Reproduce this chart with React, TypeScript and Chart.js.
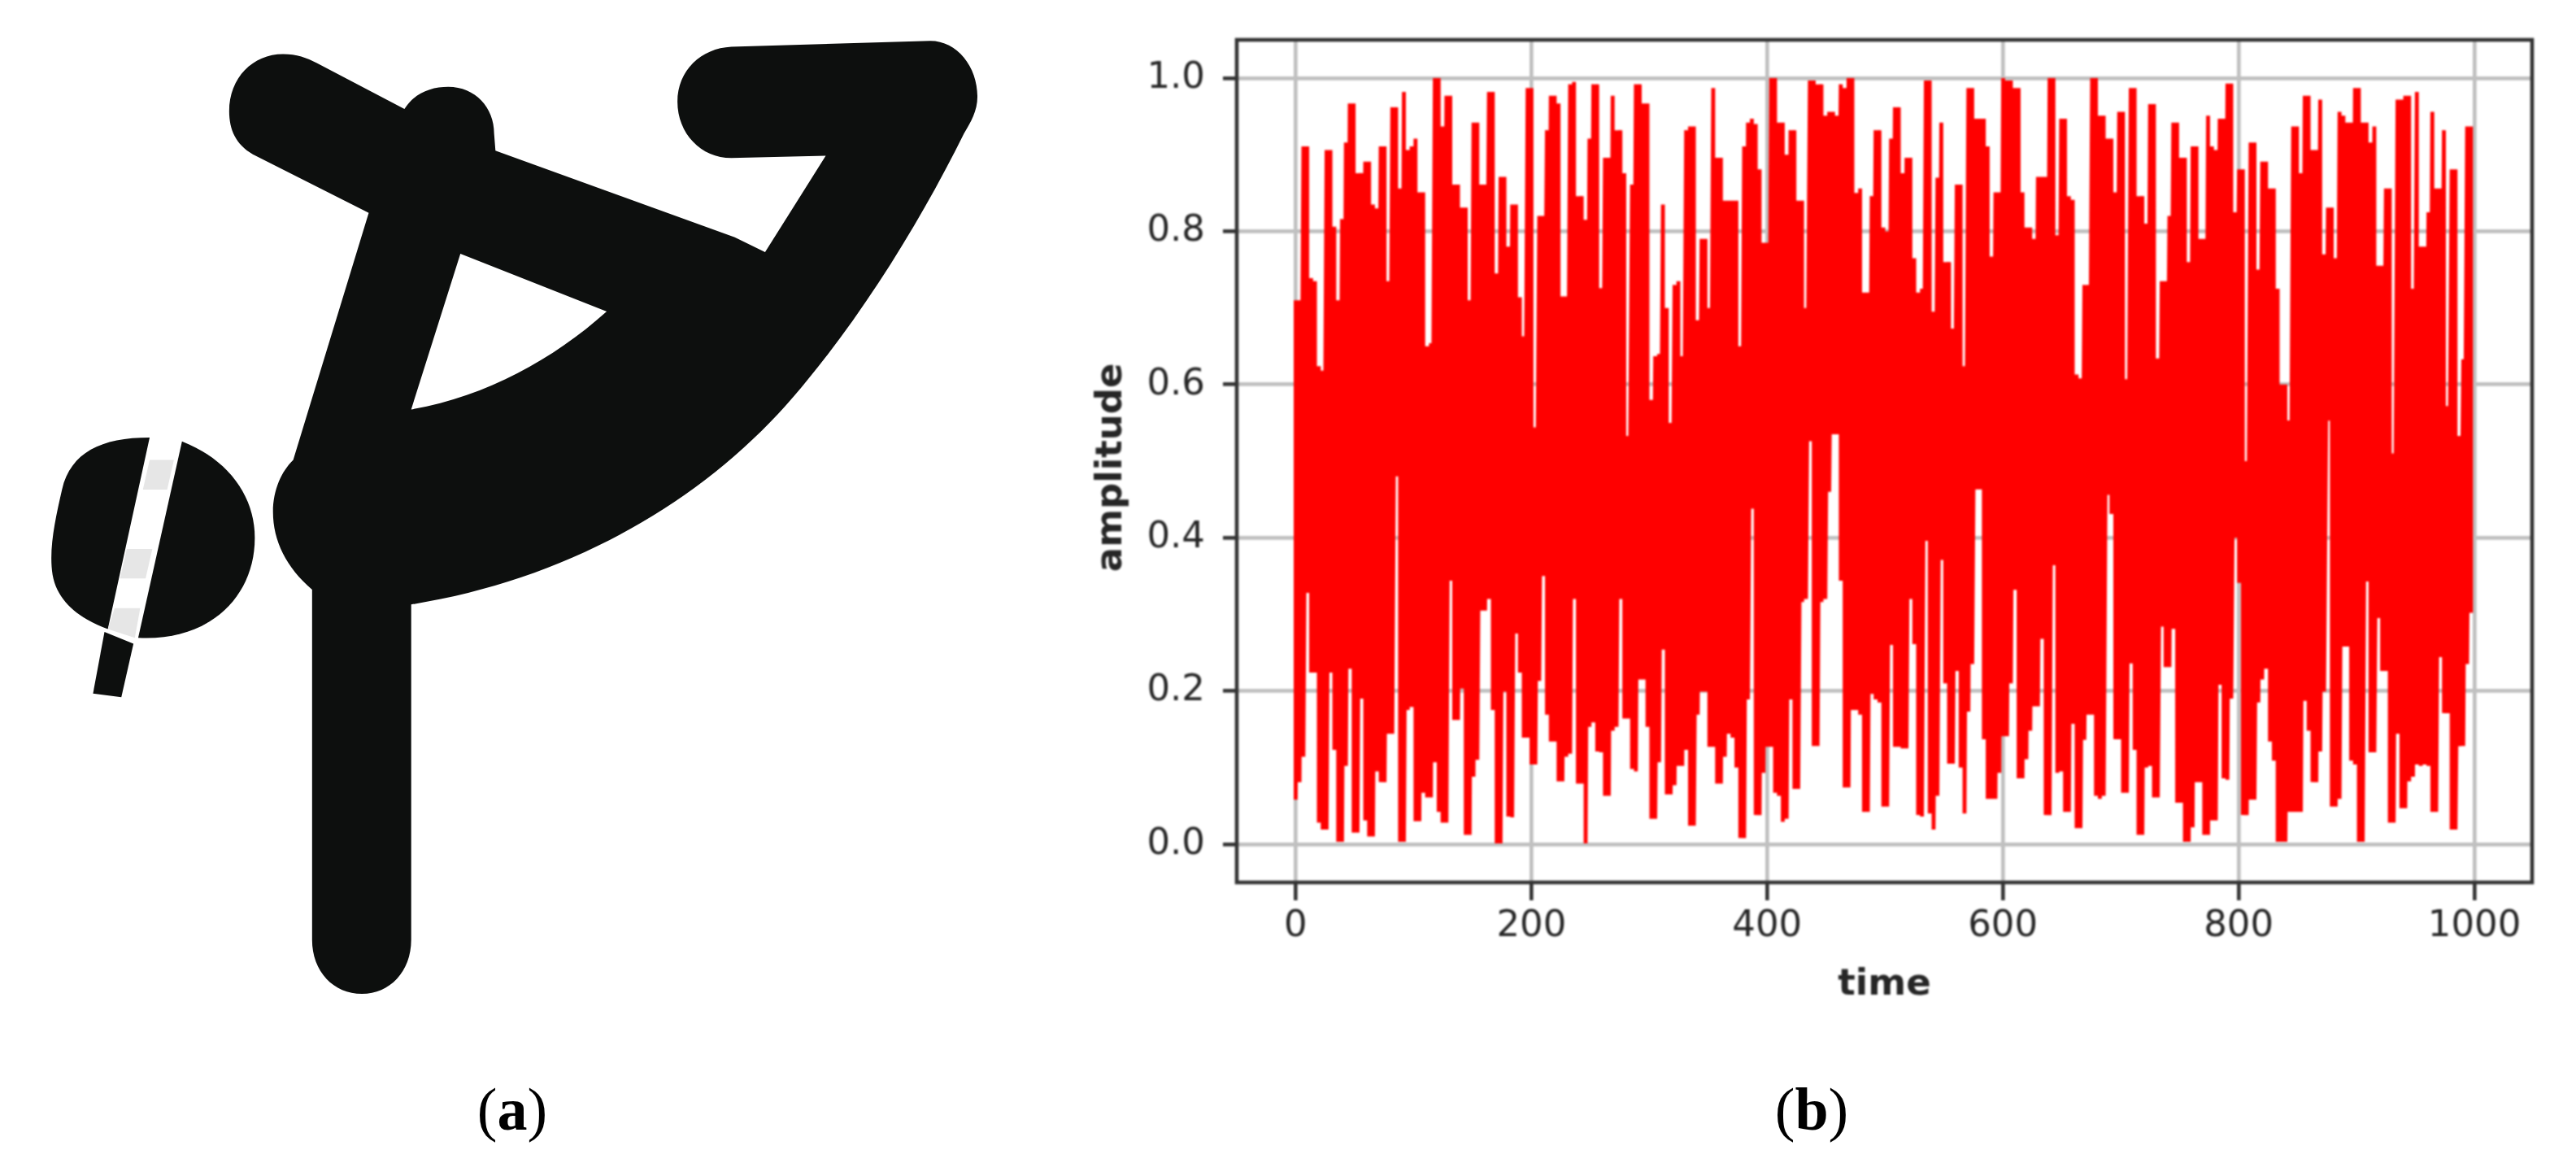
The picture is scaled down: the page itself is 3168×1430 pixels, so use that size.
import React, { useEffect, useRef } from "react";
import { Chart, registerables } from "chart.js";

Chart.register(...registerables);

// Upper and lower extents of the red trace.
const peaksA = [
  .71,.71,.911,.911,.739,.735,.624,.618,.906,.906,.806,.71,.816,.916,.967,.967,.876,.876,.891,.891,
  .835,.83,.911,.911,.735,.962,.962,.856,.982,.906,.911,.921,.851,.851,.65,.654,1,1,.937,.977,
  .977,.861,.861,.831,.831,.71,.942,.942,.861,.861,.982,.982,.745,.871,.871,.78,.835,.835,.714,.663,
  .987,.987,.544,.82,.82,.932,.977,.977,.967,.715,.715,.992,.995,.846,.846,.815,
];
const peaksB = [
  .921,.992,.992,.726,.896,.896,.977,.932,.932,.876,.533,.861,.992,.992,.967,.967,.58,.637,.64,.835,
  .70,.55,.73,.735,.637,.932,.937,.937,.684,.79,.79,.70,.987,.896,.896,.84,.84,.84,.84,.65,
  .911,.942,.947,.94,.881,.785,.785,1,1,.942,.942,.90,.932,.932,.84,.84,.70,.997,.997,.992,
  .992,.951,.956,.956,.951,.992,.987,1,1,.85,.856,.72,.72,.846,.932,.932,.805,.80,
];
const peaksC = [
  .921,.962,.962,.876,.896,.896,.765,.72,.725,.997,.997,.695,.87,.942,.76,.76,.673,.861,.861,.624,
  .987,.987,.947,.947,.947,.911,.767,.851,.851,1,.997,.997,.987,.987,.851,.805,.805,.79,.871,.871,
  .871,1,1,.795,.947,.947,.846,.841,.613,.608,.73,.73,1,1,.951,.951,.921,.921,.851,.956,
  .956,.607,.987,.987,.846,.846,.81,.966,.966,.634,.735,.735,.82,.942,.942,.896,.896,.76,
];
const peaksD = [
  .911,.911,.79,.79,.951,.911,.906,.947,.947,.993,.993,.825,.881,.881,.5,.916,.916,.75,.891,.891,
  .856,.856,.725,.60,.60,.553,.937,.937,.876,.977,.977,.906,.906,.972,.77,.831,.831,.765,.956,.951,
  .942,.942,.987,.987,.942,.942,.916,.937,.755,.755,.856,.856,.51,.972,.972,.977,.977,.725,.982,.78,
  .78,.825,.956,.856,.856,.932,.572,.881,.881,.533,.633,.937,.937,
];

const troughsA = [
  .058,.081,.114,.328,.224,.224,.028,.019,.019,.224,.123,.003,.003,.102,.229,.015,.015,.19,.031,.01,
  .01,.095,.081,.081,.144,.144,.48,.003,.003,.175,.179,.03,.03,.067,.061,.061,.107,.042,.028,.028,
  .344,.162,.162,.203,.012,.012,.088,.11,.305,.305,.32,.175,.001,.001,.199,.036,.035,.275,.224,.139,
  .139,.104,.104,.213,.35,.169,.134,.134,.082,.082,.114,.118,.32,.079,.079,.001,
];
const troughsB = [
  .153,.159,.121,.12,.063,.063,.148,.153,.32,.164,.164,.098,.095,.215,.215,.153,.033,.033,.107,.254,
  .065,.065,.077,.102,.102,.123,.024,.024,.169,.199,.199,.127,.127,.079,.079,.114,.144,.139,.10,.008,
  .008,.189,.438,.038,.038,.093,.127,.127,.067,.063,.029,.033,.189,.072,.072,.316,.32,.526,.128,.128,
  .316,.32,.46,.535,.535,.344,.074,.074,.175,.175,.169,.042,.042,.196,.189,.185,.049,.049,
];
const troughsC = [
  .26,.127,.127,.125,.125,.32,.261,.038,.036,.396,.04,.019,.063,.371,.21,.105,.105,.226,.1,.04,
  .173,.235,.463,.463,.137,.059,.059,.059,.093,.141,.141,.21,.332,.086,.086,.111,.148,.18,.18,.268,
  .038,.038,.364,.093,.095,.042,.042,.157,.021,.021,.136,.169,.169,.063,.059,.063,.456,.431,.137,.137,
  .067,.067,.236,.123,.012,.012,.10,.102,.061,.061,.284,.231,.231,.281,.054,.054,.003,.003,
];
const troughsD = [
  .022,.081,.081,.012,.012,.031,.031,.208,.086,.084,.19,.40,.341,.038,.038,.058,.058,.185,.215,.229,
  .134,.109,.003,.003,.003,.042,.042,.042,.042,.187,.148,.081,.081,.121,.199,.553,.049,.049,.059,.258,
  .258,.109,.104,.003,.003,.343,.12,.12,.295,.226,.226,.028,.028,.144,.047,.047,.082,.088,.104,.102,
  .104,.102,.042,.042,.244,.171,.171,.019,.019,.128,.128,.235,.302,
];

const xTickValues = [0, 200, 400, 600, 800, 1000];
const yTickValues = [0, 0.2, 0.4, 0.6, 0.8, 1];
const xAxisLabel = "time";
const yAxisLabel = "amplitude ";
const timePerColumn = 3.28;

const peaks = [...peaksA, ...peaksB, ...peaksC, ...peaksD];
const troughs = [...troughsA, ...troughsB, ...troughsC, ...troughsD];
const trace: { x: number; y: number }[] = [];
peaks.forEach((p, i) => {
  trace.push({ x: i * timePerColumn, y: p });
  trace.push({ x: i * timePerColumn, y: troughs[i] });
});

const SPINE = "#333333";
const GRID = "#c0c0c0";
const TEXT = "#262626";
const FONT = "'DejaVu Sans'";

const framePlugin = {
  id: "frame",
  afterDraw(chart: any) {
    const { ctx, chartArea: a } = chart;
    ctx.save();
    ctx.strokeStyle = SPINE;
    ctx.lineWidth = 4.6;
    ctx.strokeRect(a.left, a.top, a.right - a.left, a.bottom - a.top);
    ctx.restore();
  },
};

function Pictogram() {
  const ink = "#0d0f0e";
  return (
    <svg width={1300} height={1300} style={{ position: "absolute", left: 0, top: 0 }}>
      <g transform="scale(0.829,0.912)">
        <path
          fill={ink}
          fillRule="evenodd"
          d="M463 795 C425 765 405 730 405 690 C405 660 418 635 435 620 L547 287 L375 208
             C350 195 340 175 340 150 C340 105 375 73 420 73 C440 73 455 78 470 85 L600 147
             C615 125 640 117 665 117 C705 117 733 145 733 180 L735 203 L1090 320 L1135 340 L1225 210
             L1085 213 C1040 213 1005 180 1005 137 C1005 95 1040 65 1085 63 L1380 55
             C1420 55 1450 90 1450 130 C1450 150 1440 165 1430 180
             C1370 290 1290 410 1200 510 C1060 670 850 780 610 815 L610 1267
             C610 1310 578 1340 537 1340 C495 1340 463 1310 463 1267 Z
             M683 342 L900 420 C820 485 720 535 610 552 Z"
        />
        <path
          fill={ink}
          d="M222 590 C150 590 105 610 92 660 C82 700 72 740 78 775 C85 812 120 835 160 848 Z"
        />
        <path
          fill={ink}
          d="M270 595 C340 620 378 670 378 725 C378 805 310 865 205 860 Z"
        />
        <path fill={ink} d="M155 852 L198 868 L180 940 L138 935 Z" />
        <path fill="#e6e6e6" d="M222 620 L258 620 L248 660 L212 660 Z" />
        <path fill="#e6e6e6" d="M188 740 L226 740 L216 780 L178 780 Z" />
        <path fill="#e6e6e6" d="M170 820 L208 820 L200 860 L160 848 Z" />
      </g>
    </svg>
  );
}

function Caption({ left, letter }: { left: number; letter: string }) {
  return (
    <div
      style={{
        position: "absolute",
        left,
        top: 1322,
        width: 200,
        textAlign: "center",
        fontFamily: "'Liberation Serif'",
        fontSize: 74,
        lineHeight: "84px",
        color: "#000",
      }}
    >
      (<b>{letter}</b>)
    </div>
  );
}

export default function App() {
  const ref = useRef<HTMLCanvasElement>(null);
  useEffect(() => {
    const chart = new Chart(ref.current as HTMLCanvasElement, {
      type: "line",
      data: {
        datasets: [
          {
            data: trace,
            borderColor: "#ff0000",
            borderWidth: 4.8,
            borderJoinStyle: "bevel",
            borderCapStyle: "butt",
            pointRadius: 0,
            tension: 0,
            fill: false,
          },
        ],
      },
      plugins: [framePlugin],
      options: {
        responsive: false,
        animation: false,
        devicePixelRatio: 1,
        layout: { padding: { top: 48, right: 54, left: 0, bottom: 0 } },
        plugins: { legend: { display: false }, tooltip: { enabled: false }, title: { display: false } },
        scales: {
          x: {
            type: "linear",
            min: -49.95,
            max: 1048.95,
            afterFit: (s: any) => { s.height = 215; },
            afterBuildTicks: (s: any) => { s.ticks = xTickValues.map((value) => ({ value })); },
            ticks: {
              includeBounds: false,
              autoSkip: false,
              maxRotation: 0,
              padding: 5,
              color: TEXT,
              font: { family: FONT, size: 45 },
              callback: (v: any) => String(v),
            },
            grid: { color: GRID, lineWidth: 4.7, tickColor: SPINE, tickWidth: 4.6, tickLength: 22 },
            border: { display: false },
            title: {
              display: true,
              text: xAxisLabel,
              color: TEXT,
              font: { family: FONT, size: 45, weight: "bold" },
              padding: { top: 0, bottom: 62 },
            },
          },
          y: {
            type: "linear",
            min: -0.05,
            max: 1.05,
            afterFit: (s: any) => { s.width = 221; },
            afterBuildTicks: (s: any) => { s.ticks = yTickValues.map((value) => ({ value })); },
            ticks: {
              includeBounds: false,
              autoSkip: false,
              padding: 22,
              color: TEXT,
              font: { family: FONT, size: 45 },
              callback: (v: any) => Number(v).toFixed(1),
            },
            grid: { color: GRID, lineWidth: 4.7, tickColor: SPINE, tickWidth: 4.6, tickLength: 17 },
            border: { display: false },
            title: {
              display: true,
              text: yAxisLabel,
              color: TEXT,
              font: { family: FONT, size: 45, weight: "bold" },
              padding: { top: 40, bottom: 0 },
            },
          },
        },
      },
    } as any);
    return () => chart.destroy();
  }, []);

  return (
    <div style={{ position: "absolute", left: 0, top: 0, width: 3168, height: 1430, background: "#fff", overflow: "hidden" }}>
      <Pictogram />
      <canvas
        ref={ref}
        width={1868}
        height={1300}
        style={{ position: "absolute", left: 1300, top: 0, filter: "blur(0.8px)" }}
      />
      <Caption left={530} letter="a" />
      <Caption left={2128} letter="b" />
    </div>
  );
}
